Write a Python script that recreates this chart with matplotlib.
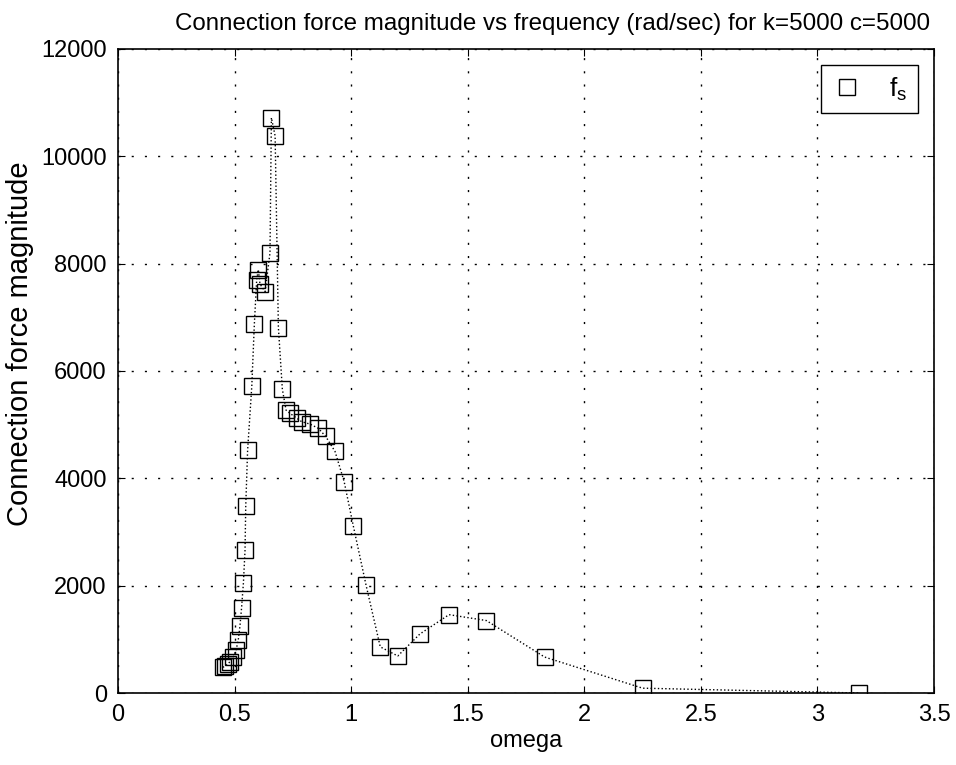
import numpy as np
import matplotlib
matplotlib.use('Agg')
import matplotlib.pyplot as plt

plt.rcParams['font.family'] = ['Liberation Sans', 'DejaVu Sans']
plt.rcParams['mathtext.fontset'] = 'custom'
plt.rcParams['mathtext.rm'] = 'Liberation Sans'

# frequency (rad/sec)
omega = [0.45, 0.46, 0.47, 0.48, 0.495, 0.507, 0.516, 0.523, 0.530, 0.538,
         0.545, 0.548, 0.556, 0.574, 0.585, 0.595, 0.602, 0.609, 0.631, 0.652,
         0.658, 0.674, 0.688, 0.705, 0.721, 0.738, 0.767, 0.788, 0.824, 0.860,
         0.891, 0.931, 0.970, 1.009, 1.064, 1.125, 1.200, 1.295, 1.420, 1.580,
         1.830, 2.250, 3.180]

# connection force magnitude
fs = [480, 500, 540, 580, 677, 810, 990, 1240, 1580, 2050,
      2665, 3480, 4520, 5720, 6880, 7700, 7890, 7620, 7480, 8200,
      10720, 10380, 6810, 5660, 5270, 5210, 5120, 5055, 5010, 4930,
      4780, 4500, 3940, 3120, 2010, 860, 690, 1100, 1460, 1350,
      670, 90, 0]

xticks = [0, 0.5, 1, 1.5, 2, 2.5, 3, 3.5]
xticklabels = ['0', '0.5', '1', '1.5', '2', '2.5', '3', '3.5']
yticks = [0, 2000, 4000, 6000, 8000, 10000, 12000]

fig = plt.figure(figsize=(9.56, 7.65), dpi=100)
ax = fig.add_axes([0.1234, 0.0941, 0.8536, 0.8419])

# connecting dotted line, then the square markers
ax.plot(omega, fs, color='black', linestyle=':', linewidth=1.0)
ax.plot(omega, fs, linestyle='none', marker='s', markersize=11,
        markerfacecolor='none', markeredgecolor='black', markeredgewidth=1.0,
        label=r'f$_\mathrm{s}$')

ax.set_xlim(0, 3.5)
ax.set_ylim(0, 12000)
ax.set_xticks(xticks)
ax.set_xticklabels(xticklabels)
ax.set_yticks(yticks)
ax.tick_params(direction='in', top=True, right=True, labelsize=17, length=5, pad=8)
ax.grid(True, color='black', linestyle=(0, (1.5, 8)), linewidth=1.0)
for s in ax.spines.values():
    s.set_linewidth(1.2)

ax.set_title('Connection force magnitude vs frequency (rad/sec) for k=5000 c=5000',
             fontsize=17.4, x=0.533, pad=14)
ax.set_xlabel('omega', fontsize=17, labelpad=3)
ax.set_ylabel('Connection force magnitude', fontsize=21)
ax.yaxis.set_label_coords(-0.103, 0.543)

leg = ax.legend(loc='upper right', fontsize=19, fancybox=False, framealpha=1,
                edgecolor='black', handlelength=1.2, handletextpad=1.0,
                borderpad=0.4, borderaxespad=0.6)
leg.get_frame().set_linewidth(1.0)

plt.savefig('out.png', dpi=100)
